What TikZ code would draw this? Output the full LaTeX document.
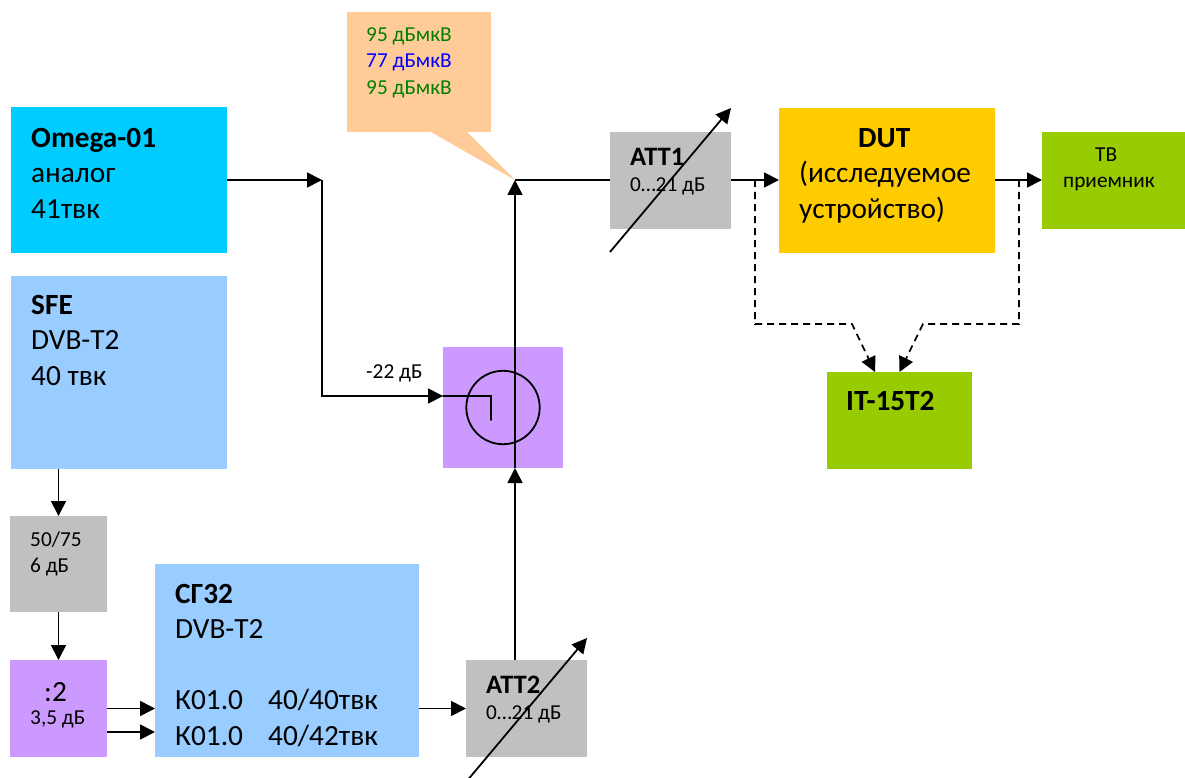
\documentclass[tikz,border=0pt]{standalone}
\usepackage{fontspec}
\setmainfont{Carlito}
\usetikzlibrary{arrows.meta}
\definecolor{cyanbox}{HTML}{00CCFF}
\definecolor{bluebox}{HTML}{99CCFF}
\definecolor{greybox}{HTML}{C0C0C0}
\definecolor{violetbox}{HTML}{CC99FF}
\definecolor{notebox}{HTML}{FFCC99}
\definecolor{dutbox}{HTML}{FFCC00}
\definecolor{greenbox}{HTML}{99CC00}
\definecolor{levelgreen}{HTML}{008000}
\tikzset{
  block/.style={inner sep=0pt, outer sep=0pt},
  big/.style={inner sep=0pt, anchor=north west, align=left, font=\fontsize{29.3}{35.5}\selectfont},
  small/.style={inner sep=0pt, anchor=north west, align=left, font=\fontsize{21.3}{26}\selectfont},
  sig/.style={line width=1.8pt, -{Triangle[length=15pt,width=15pt]}},
  wire/.style={line width=1.8pt},
  dsig/.style={line width=1.7pt, dash pattern=on 7pt off 5pt, -{Triangle[length=15pt,width=15pt]}}
}
\begin{document}
\begin{tikzpicture}[x=1pt, y=-1pt]
  \useasboundingbox (0,0) rectangle (1185,778);
  % boxes
  \node[block, fill=cyanbox, minimum width=216pt, minimum height=146pt] (omega) at (119,180) {};
  \node[block, fill=bluebox, minimum width=216pt, minimum height=193pt] (sfe) at (119,372.5) {};
  \node[block, fill=greybox, minimum width=97pt, minimum height=96pt] (conv) at (58.5,564) {};
  \node[block, fill=violetbox, minimum width=97pt, minimum height=97pt] (split) at (58.5,708.5) {};
  \node[block, fill=bluebox, minimum width=264pt, minimum height=193pt] (sg) at (287,660.5) {};
  \node[block, fill=greybox, minimum width=121pt, minimum height=97pt] (att2) at (526.5,708.5) {};
  \node[block, fill=violetbox, minimum width=120pt, minimum height=121pt] (coupler) at (503,407.5) {};
  \node[block, fill=notebox, minimum width=144pt, minimum height=120pt] (note) at (419,72) {};
  \node[block, fill=greybox, minimum width=121pt, minimum height=97pt] (att1) at (670.5,180.5) {};
  \node[block, fill=dutbox, minimum width=216pt, minimum height=145pt] (dut) at (887,180.5) {};
  \node[block, fill=greenbox, minimum width=143pt, minimum height=97pt] (tv) at (1113.5,180.5) {};
  \node[block, fill=greenbox, minimum width=145pt, minimum height=97pt] (it) at (899.5,420.5) {};
  % junctions
  \coordinate (sum) at (515,180);
  \coordinate (tap) at (322,180);
  \coordinate (tapin) at (443,396);
  \coordinate (hook) at (491,396);
  \coordinate (dleft) at (755,180);
  \coordinate (dright) at (1019,180);
  % callout tail
  \fill[notebox] (431,132) -- (sum) -- (467,132) -- cycle;
  % texts
  \node[big] (omegatxt) at ([shift={(20,21)}]omega.north west) {\textbf{Omega-01}\\аналог\\41твк};
  \node[big] (sfetxt) at ([shift={(20,19)}]sfe.north west) {\textbf{SFE}\\DVB-T2\\40 твк};
  \node[small] (convtxt) at ([shift={(20,16)}]conv.north west) {50/75\\6 дБ};
  \node[big] (splitbig) at ([shift={(34,22)}]split.north west) {:2};
  \node[small] (splittxt) at ([shift={(20,50)}]split.north west) {3,5 дБ};
  \node[big] (sgtxt) at ([shift={(20,20)}]sg.north west) {\textbf{СГ32}\\DVB-T2\\[35.5pt]\makebox[93pt][l]{К01.0}40/40твк\\\makebox[93pt][l]{К01.0}40/42твк};
  \node[small] (att2txt) at ([shift={(20,16)}]att2.north west) {\fontsize{26.6}{26}\selectfont\textbf{ATT2}\\\fontsize{21.3}{26}\selectfont 0…21 дБ};
  \node[small] (att1txt) at ([shift={(20,16)}]att1.north west) {\fontsize{26.6}{26}\selectfont\textbf{ATT1}\\\fontsize{21.3}{26}\selectfont 0…21 дБ};
  \node[big] (duttxt) at ([shift={(20,20)}]dut.north west) {\hspace*{59pt}\textbf{DUT}\\(исследуемое\\устройство)};
  \node[small] (tvtxt) at ([shift={(21,16)}]tv.north west) {\hspace*{32pt}ТВ\\приемник};
  \node[big] (ittxt) at ([shift={(19,19)}]it.north west) {\textbf{IT-15T2}};
  \node[small, font=\fontsize{21.3}{26.5}\selectfont] (notetxt) at ([shift={(19,15)}]note.north west)
    {\textcolor{levelgreen}{95 дБмкВ}\\\textcolor{blue}{77 дБмкВ}\\\textcolor{levelgreen}{95 дБмкВ}};
  \node[small] (couplertxt) at ([shift={(-77,17)}]coupler.north west) {-22 дБ};
  % coupler symbol
  \draw[wire] (coupler.center) circle[radius=36.7];
  % chain
  \draw[sig] (sfe.south -| conv.north) -- (conv.north);
  \draw[sig] (conv.south) -- (split.north);
  \draw[sig] (split.east) -- (split.east -| sg.west);
  \draw[sig] ([yshift=-23.5pt]split.east) -- ([yshift=-23.5pt]split.east -| sg.west);
  \draw[sig] (sg.east |- att2.west) -- (att2.west);
  \draw[sig] (att2.north -| sum) -- (coupler.south -| sum);
  \draw[sig] (coupler.south -| sum) -- (sum);
  \draw[sig] (omega.east) -- (tap);
  \draw[sig] (tap) |- (tapin);
  \draw[wire, line cap=round] (tapin) -- (hook) -- ([yshift=-24pt]hook);
  \draw[wire] (sum) -- (att1.west |- sum);
  \draw[sig] (att1.east |- sum) -- (dut.west |- sum);
  \draw[sig] (dut.east |- sum) -- (tv.west |- sum);
  % dashed branches
  \draw[dsig] (dleft) |- (852,324) -- ([xshift=-24.5pt]it.north);
  \draw[dsig] (dright) |- (923,324) -- (it.north);
  % attenuator arrows
  \draw[sig] ([yshift=-23pt]att1.south west) -- ([yshift=24pt]att1.north east);
  \draw[sig] ([yshift=-25pt]att2.south west) -- ([yshift=22pt]att2.north east);
\end{tikzpicture}
\end{document}
